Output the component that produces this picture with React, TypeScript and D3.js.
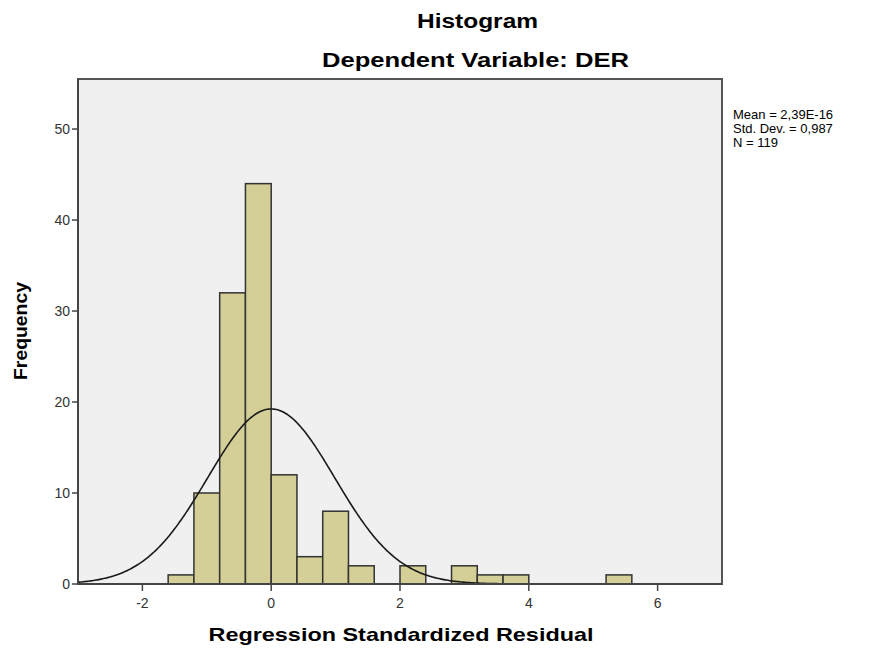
import * as React from 'react';
import * as d3 from 'd3';

// bin edges (lower bound) and counts, bin width 0.4
const BIN_STARTS = [-1.6, -1.2, -0.8, -0.4, 0, 0.4, 0.8, 1.2, 1.6, 2.0, 2.4, 2.8, 3.2, 3.6, 4.0, 4.4, 4.8, 5.2];
const COUNTS = [1, 10, 32, 44, 12, 3, 8, 2, 0, 2, 0, 2, 1, 1, 0, 0, 0, 1];
const BIN_WIDTH = 0.4;
const X_TICKS = [-2, 0, 2, 4, 6];
const Y_TICKS = [0, 10, 20, 30, 40, 50];
const STATS = ['Mean = 2,39E-16', 'Std. Dev. = 0,987', 'N = 119'];
const MEAN = 2.39e-16;
const SD = 0.987;
const N = 119;

const W = 869;
const H = 652;
const M = { top: 79, left: 78, right: 147, bottom: 68 };

export default function App() {
  const iw = W - M.left - M.right;
  const ih = H - M.top - M.bottom;

  const x = d3.scaleLinear().domain([-3, 7]).range([0, iw]);
  const y = d3.scaleLinear().domain([0, 55.5]).range([ih, 0]);

  // normal curve from the stats
  const curvePts = d3.range(-3, 7.001, 0.02).map((v) => {
    const dens = Math.exp(-0.5 * ((v - MEAN) / SD) ** 2) / (SD * Math.sqrt(2 * Math.PI));
    return [v, dens * N * BIN_WIDTH] as [number, number];
  });
  const line = d3.line<[number, number]>().x((d) => x(d[0])).y((d) => y(d[1]));

  const font = '"Liberation Sans", Arial, sans-serif';

  return (
    <svg width={W} height={H} style={{ position: 'absolute', left: 0, top: 0 }} fontFamily={font}>
      <rect width={W} height={H} fill="#fff" />
      <text x={477.5} y={28} textAnchor="middle" fontSize={20} fontWeight="bold" fill="#000"
        textLength={121} lengthAdjust="spacingAndGlyphs">Histogram</text>
      <text x={475.5} y={67} textAnchor="middle" fontSize={20} fontWeight="bold" fill="#000"
        textLength={307} lengthAdjust="spacingAndGlyphs">Dependent Variable: DER</text>
      <g transform={`translate(${M.left},${M.top})`}>
        <rect width={iw} height={ih} fill="#f0f0f0" stroke="#555" strokeWidth={2} />
        {COUNTS.map((c, i) =>
          c > 0 ? (
            <rect
              key={i}
              x={x(BIN_STARTS[i])}
              y={y(c)}
              width={x(BIN_STARTS[i] + BIN_WIDTH) - x(BIN_STARTS[i])}
              height={ih - y(c)}
              fill="#d3cf96"
              stroke="#333"
              strokeWidth={1.5}
            />
          ) : null
        )}
        <path d={line(curvePts) || ''} fill="none" stroke="#1a1a1a" strokeWidth={1.6} />
        <line x1={0} x2={0} y1={0} y2={ih} stroke="#444" strokeWidth={2} />
        <line x1={0} x2={iw} y1={ih} y2={ih} stroke="#444" strokeWidth={2} />
        {Y_TICKS.map((t) => (
          <g key={t} transform={`translate(0,${y(t)})`}>
            <line x1={-6} x2={0} stroke="#444" strokeWidth={1.5} />
            <text x={-8} dy="0.35em" textAnchor="end" fontSize={14} fill="#333">{t}</text>
          </g>
        ))}
        {X_TICKS.map((t) => (
          <g key={t} transform={`translate(${x(t)},${ih})`}>
            <line y1={0} y2={7} stroke="#444" strokeWidth={1.5} />
            <text y={24} textAnchor="middle" fontSize={14} fill="#333">{t}</text>
          </g>
        ))}
      </g>
      <text x={401} y={641} textAnchor="middle" fontSize={19} fontWeight="bold" fill="#000"
        textLength={385} lengthAdjust="spacingAndGlyphs">Regression Standardized Residual</text>
      <text transform="translate(27,331) rotate(-90)" textAnchor="middle" fontSize={19} fontWeight="bold" fill="#000"
        textLength={98} lengthAdjust="spacingAndGlyphs">Frequency</text>
      {STATS.map((s, i) => (
        <text key={s} x={733} y={119 + i * 14} fontSize={13} fill="#000">{s}</text>
      ))}
    </svg>
  );
}
